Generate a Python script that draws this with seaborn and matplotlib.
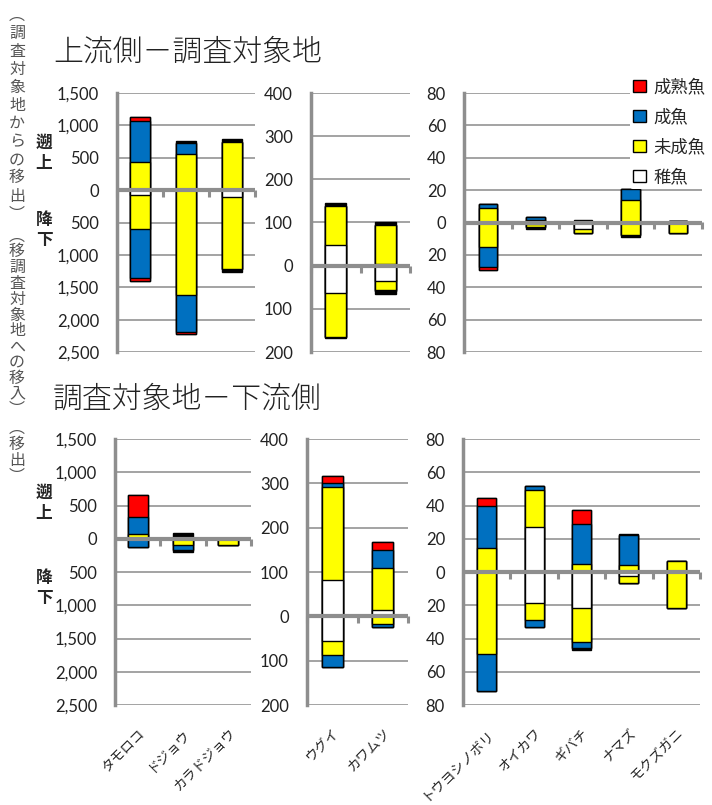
import numpy as np
import pandas as pd
import matplotlib
matplotlib.use("Agg")
import matplotlib.pyplot as plt
import seaborn as sns
from matplotlib.patches import Patch
from matplotlib.ticker import FuncFormatter, MultipleLocator, FixedLocator

# ---------------- data ----------------
stages = ["稚魚", "未成魚", "成魚", "成熟魚", "不明"]
stage_colors = ["#FFFFFF", "#FFFF00", "#0070C0", "#FF0000", "#000000"]
legend_stages = ["成熟魚", "成魚", "未成魚", "稚魚"]

cats_left = ["タモロコ", "ドジョウ", "カラドジョウ"]
cats_mid = ["ウグイ", "カワムツ"]
cats_right = ["トウヨシノボリ", "オイカワ", "ギバチ", "ナマズ", "モクズガニ"]

# 上流側－調査対象地  (rows = species, columns = stages 稚魚,未成魚,成魚,成熟魚,不明)
a_left_up = [[25, 404, 631, 77, 0], [0, 558, 166, 0, 30], [0, 750, 0, 0, 35]]
a_left_down = [[70, 525, 765, 51, 0], [0, 1613, 574, 36, 0], [110, 1105, 0, 0, 50]]
a_mid_up = [[48, 91, 0, 0, 6], [5, 90, 0, 0, 5]]
a_mid_down = [[64, 102, 0, 0, 2], [35, 21, 3, 0, 6]]
a_right_up = [[0, 8.9, 2.5, 0, 0], [0.5, 1.2, 1.8, 0, 0], [1, 0, 0, 0, 0.8],
              [0, 13.8, 6.9, 0, 0], [0, 0.8, 0, 0, 0]]
a_right_down = [[0, 14.9, 12.6, 1.9, 0], [1, 1.8, 0, 0, 1.5], [4, 2.3, 0, 0, 0],
                [0, 7.9, 0, 0, 1], [0, 6.4, 0, 0, 0]]

# 調査対象地－下流側
b_left_up = [[0, 76, 252, 329, 0], [0, 0, 0, 0, 85], [0, 0, 0, 0, 0]]
b_left_down = [[0, 0, 125, 0, 0], [0, 101, 66, 0, 35], [0, 101, 0, 0, 0]]
b_mid_up = [[81, 210, 10, 15, 0], [13.5, 95.5, 40, 18, 0]]
b_mid_down = [[55.5, 31, 28, 0, 0], [0, 16.5, 7.5, 0, 0]]
b_right_up = [[0, 14.6, 24.8, 5.2, 0], [27, 22.4, 2.6, 0, 0], [0, 5, 23.8, 8.2, 0],
              [0, 4.4, 17.6, 0, 1], [0, 6.6, 0, 0, 0]]
b_right_down = [[0, 49.6, 22, 0, 0], [18.8, 10.2, 4, 0, 0], [21.6, 20.4, 4, 0, 1],
                [2.2, 4.2, 0, 0, 0], [0, 21.6, 0, 0, 0]]

title_top = "上流側－調査対象地"
title_bottom = "調査対象地－下流側"
side_text_1 = "︵調査対象地からの移出︶"
side_text_2 = "︵移調査対象地への移入︶"
side_text_3 = "︵移出︶"

# ---------------- style ----------------
sns.set_style("white")
plt.rcParams["font.family"] = ["Noto Sans CJK JP", "DejaVu Sans"]

W, H = 712, 805
fig = plt.figure(figsize=(W / 100, H / 100), dpi=100)
GRID = "#9c9c9c"
AXC = "#8e8e8e"


def fx(x):
    return x / W


def fy(y):
    return 1 - y / H


def add_ax(x0, x1, ytop, ybot):
    return fig.add_axes([fx(x0), fy(ybot), fx(x1) - fx(x0), (ybot - ytop) / H])


def draw_panel(ax, cats, up, down, ylim, step, width, show_labels):
    up = np.array(up, float)
    down = np.array(down, float)
    cums = [up.cumsum(axis=1), -down.cumsum(axis=1)]
    for cum in cums:
        for k in range(len(stages) - 1, -1, -1):
            df = pd.DataFrame({"cat": cats, "val": cum[:, k]})
            sns.barplot(data=df, x="cat", y="val", order=cats,
                        color=stage_colors[k], saturation=1,
                        edgecolor="black", linewidth=1.0, width=width,
                        errorbar=None, ax=ax, zorder=3)
    n = len(cats)
    ax.set_xlim(-0.5, n - 0.5)
    ax.set_ylim(*ylim)
    ax.set_xlabel("")
    ax.set_ylabel("")
    ax.yaxis.set_major_locator(MultipleLocator(step))
    ax.yaxis.set_major_formatter(FuncFormatter(lambda v, p: f"{abs(v):,.0f}"))
    ax.grid(axis="y", color=GRID, lw=1.3)
    ax.grid(axis="x", visible=False)
    ax.set_axisbelow(True)
    for s in ["top", "right", "bottom"]:
        ax.spines[s].set_visible(False)
    ax.spines["left"].set_color(AXC)
    ax.spines["left"].set_linewidth(2.5)
    ax.tick_params(axis="y", length=0, pad=13, labelsize=12,
                   labelfontfamily="Lato", labelcolor="#222222")
    ax.axhline(0, color=AXC, lw=3, zorder=6)
    frac = (0 - ylim[0]) / (ylim[1] - ylim[0])
    sec = ax.secondary_xaxis(frac)
    sec.set_alignment("bottom")
    sec.xaxis.set_major_locator(FixedLocator(np.arange(-0.5, n, 1.0)))
    sec.tick_params(axis="x", direction="out", length=5, width=2.2,
                    color=AXC, labelbottom=False, labeltop=False)
    for s in sec.spines.values():
        s.set_visible(False)
    ax.set_xticks(range(n))
    if show_labels:
        ax.set_xticklabels(cats, rotation=45, ha="right", va="top",
                           rotation_mode="anchor", fontsize=9.8)
        ax.tick_params(axis="x", length=0, pad=15)
    else:
        ax.tick_params(axis="x", length=0, labelbottom=False)


# top row
ax1 = add_ax(117, 255, 93, 352)
draw_panel(ax1, cats_left, a_left_up, a_left_down, (-2500, 1500), 500, 0.44, False)
ax2 = add_ax(311, 410, 93, 352)
draw_panel(ax2, cats_mid, a_mid_up, a_mid_down, (-200, 400), 100, 0.42, False)
ax3 = add_ax(464, 702, 93, 352)
draw_panel(ax3, cats_right, a_right_up, a_right_down, (-80, 80), 20, 0.39, False)

# bottom row
ax4 = add_ax(115, 251, 439, 705)
draw_panel(ax4, cats_left, b_left_up, b_left_down, (-2500, 1500), 500, 0.44, True)
ax5 = add_ax(307, 408, 439, 705)
draw_panel(ax5, cats_mid, b_mid_up, b_mid_down, (-200, 400), 100, 0.42, True)
ax6 = add_ax(463, 700, 439, 705)
draw_panel(ax6, cats_right, b_right_up, b_right_down, (-80, 80), 20, 0.40, True)

# legend
handles = [Patch(facecolor=stage_colors[stages.index(s)], edgecolor="black", lw=1.0)
           for s in legend_stages]
fig.legend(handles, legend_stages, loc="upper left",
           bbox_to_anchor=(fx(630), fy(75)), fontsize=12.5, frameon=True,
           facecolor="white", edgecolor="none", framealpha=1,
           handlelength=0.7, handleheight=0.7, handletextpad=0.45,
           labelspacing=0.68, borderpad=0.2, borderaxespad=0)

# titles
fig.text(fx(53), fy(52), title_top, fontsize=21.5, va="center", ha="left",
         color="#222222", fontweight="light")
fig.text(fx(53), fy(399), title_bottom, fontsize=21.5, va="center", ha="left",
         color="#222222", fontweight="light")

# 遡上 / 降下 labels
for (y0, y1) in [(143, 163), (493, 513)]:
    fig.text(fx(44), fy(y0), "遡", fontsize=12, fontweight="bold", ha="center", va="center")
    fig.text(fx(44), fy(y1), "上", fontsize=12, fontweight="bold", ha="center", va="center")
for (y0, y1) in [(220, 240), (578, 598)]:
    fig.text(fx(44), fy(y0), "降", fontsize=12, fontweight="bold", ha="center", va="center")
    fig.text(fx(44), fy(y1), "下", fontsize=12, fontweight="bold", ha="center", va="center")

# vertical side text
def vtext(txt, ystart, step):
    for i, ch in enumerate(txt):
        fig.text(fx(17), fy(ystart + i * step), ch, fontsize=11.5, ha="center",
                 va="center", color="#555555")


vtext(side_text_1, 15, 18.1)
vtext(side_text_2, 236, 15.8)
vtext(side_text_3, 428, 16.0)

fig.savefig("out.png", dpi=100)
